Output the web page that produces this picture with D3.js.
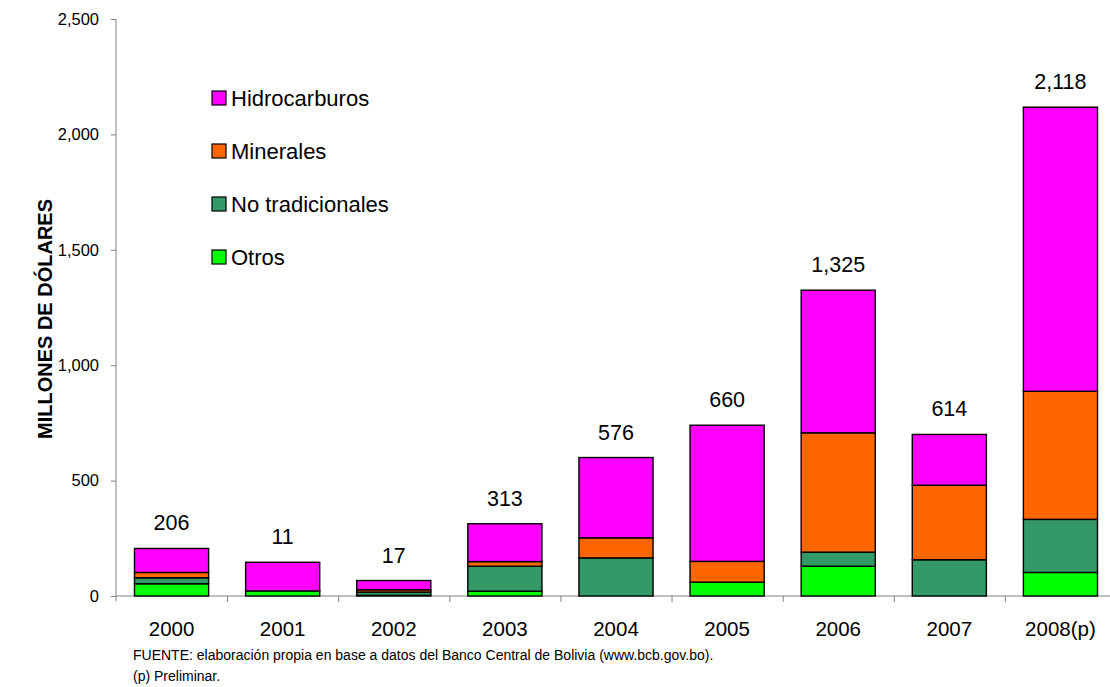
<!DOCTYPE html>
<html>
<head>
<meta charset="utf-8">
<script src="https://cdn.jsdelivr.net/npm/d3@7"></script>
<style>
  html, body { margin: 0; padding: 0; background: #fff; }
  svg { display: block; font-family: "Liberation Sans", Arial, sans-serif; }
  svg text { font-family: "Liberation Sans", Arial, sans-serif; fill: #000; }
</style>
</head>
<body>
<svg id="chart" width="1110" height="687"></svg>
<script>
// Exportaciones por sector, millones de dólares
const years = ["2000", "2001", "2002", "2003", "2004", "2005", "2006", "2007", "2008(p)"];
const otros = [53, 22, 3, 21, 0, 60, 129, 0, 102];
const noTradicionales = [26, 0, 14, 108, 165, 0, 61, 157, 230];
const minerales = [23, 0, 10, 20, 87, 90, 517, 323, 555];
const hidrocarburos = [104, 124, 40, 164, 348, 590, 618, 220, 1231];
const topLabels = [206, 11, 17, 313, 576, 660, 1325, 614, 2118];
const yTicks = [0, 500, 1000, 1500, 2000, 2500];

const seriesNames = ["Otros", "No tradicionales", "Minerales", "Hidrocarburos"];
const seriesColors = ["#00FF00", "#339966", "#FF6600", "#FF00FF"];
const seriesValues = [otros, noTradicionales, minerales, hidrocarburos];

const rows = years.map((yr, i) => {
  const r = { year: yr };
  seriesNames.forEach((n, k) => { r[n] = seriesValues[k][i]; });
  return r;
});

const svg = d3.select("#chart");
const plotLeft = 116, plotRight = 1116, plotTop = 19, plotBottom = 596;

const x = d3.scaleBand().domain(years).range([plotLeft, plotRight])
  .paddingInner(0.333).paddingOuter(0.1665);
const y = d3.scaleLinear().domain([0, 2500]).range([plotBottom, plotTop]);

const layers = d3.stack().keys(seriesNames)(rows);

// Y axis
const yAxis = svg.append("g").attr("transform", `translate(${plotLeft},0)`)
  .call(d3.axisLeft(y).tickValues(yTicks).tickSize(5).tickPadding(12)
    .tickFormat(d3.format(",")));
yAxis.select(".domain").attr("stroke", "#808080").attr("d", `M0,${plotTop}V${plotBottom + 5}`);
yAxis.selectAll(".tick line").attr("stroke", "#808080");
yAxis.selectAll(".tick text").attr("font-size", 16.5);

// X axis with ticks on category boundaries
const xb = d3.scaleLinear().domain([0, years.length]).range([plotLeft, plotRight]);
const xAxis = svg.append("g").attr("transform", `translate(0,${plotBottom})`)
  .call(d3.axisBottom(xb).tickValues(d3.range(1, years.length + 1)).tickSize(6).tickFormat(""));
xAxis.select(".domain").attr("stroke", "#808080").attr("d", `M${plotLeft},0H${plotRight}`);
xAxis.selectAll(".tick line").attr("stroke", "#808080");

svg.append("g").selectAll("text").data(years).join("text")
  .attr("x", d => x(d) + x.bandwidth() / 2)
  .attr("y", plotBottom + 40)
  .attr("text-anchor", "middle")
  .attr("font-size", 20.5)
  .text(d => d);

// Stacked bars
svg.append("g").selectAll("g").data(layers).join("g")
  .attr("fill", (d, i) => seriesColors[i])
  .selectAll("rect").data(d => d).join("rect")
  .attr("x", d => x(d.data.year))
  .attr("width", x.bandwidth())
  .attr("y", d => y(d[1]))
  .attr("height", d => y(d[0]) - y(d[1]))
  .attr("stroke", "#000")
  .attr("stroke-width", 1.4);

// Labels above each bar
const totals = rows.map(r => d3.sum(seriesNames, n => r[n]));
svg.append("g").selectAll("text").data(years).join("text")
  .attr("x", d => x(d) + x.bandwidth() / 2)
  .attr("y", (d, i) => y(totals[i]) - 18)
  .attr("text-anchor", "middle")
  .attr("font-size", 21.5)
  .text((d, i) => d3.format(",")(topLabels[i]));

// Y axis title
svg.append("text")
  .attr("transform", "translate(52,319) rotate(-90)")
  .attr("text-anchor", "middle")
  .attr("font-size", 20)
  .attr("font-weight", "bold")
  .text("MILLONES DE DÓLARES");

// Legend
const legendOrder = [3, 2, 1, 0];
const legend = svg.append("g").selectAll("g").data(legendOrder).join("g")
  .attr("transform", (d, i) => `translate(212,${98 + i * 53})`);
legend.append("rect")
  .attr("x", 0).attr("y", -7).attr("width", 14).attr("height", 14)
  .attr("fill", d => seriesColors[d]).attr("stroke", "#000").attr("stroke-width", 1.2);
legend.append("text")
  .attr("x", 19).attr("y", 0).attr("dy", "0.35em")
  .attr("font-size", 22)
  .text(d => seriesNames[d]);

// Notes
svg.append("text").attr("x", 133).attr("y", 660).attr("font-size", 14)
  .text("FUENTE: elaboración propia en base a datos del Banco Central de Bolivia (www.bcb.gov.bo).");
svg.append("text").attr("x", 133).attr("y", 681).attr("font-size", 14)
  .text("(p) Preliminar.");
</script>
</body>
</html>
